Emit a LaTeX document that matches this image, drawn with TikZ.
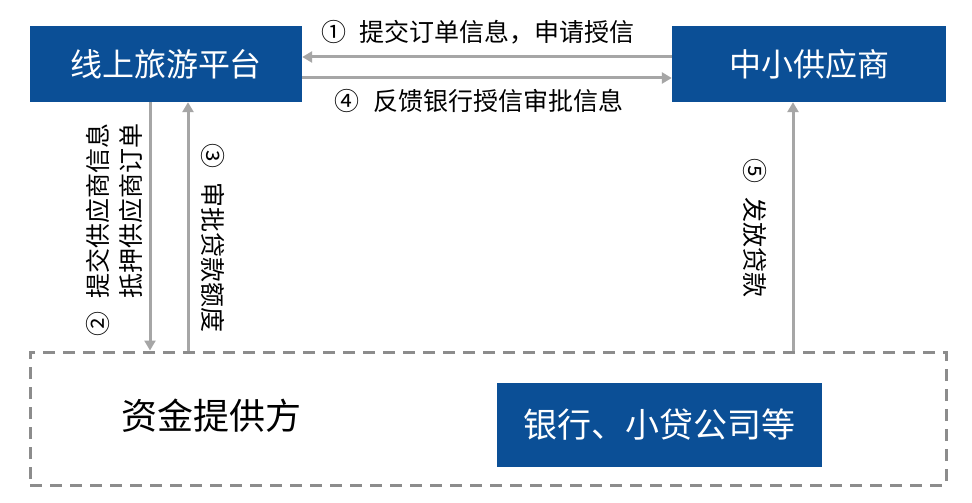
\documentclass[tikz,border=0pt]{standalone}
\usepackage{fontspec}
\setmainfont{Noto Sans CJK SC}
\usetikzlibrary{arrows.meta}
\definecolor{boxblue}{HTML}{0B4F96}
\definecolor{arrgray}{HTML}{A6A6A6}
\definecolor{dashgray}{HTML}{8C8C8C}
\newcommand{\numgap}{\hspace{0.55em}}
\begin{document}
\begin{tikzpicture}[x=1pt,y=-1pt,
  bluebox/.style={fill=boxblue,text=white,inner sep=0pt,font=\fontsize{32}{36}\selectfont},
  flow/.style={draw=arrgray,line width=3pt,-{Triangle[length=10pt,width=11pt]}},
  lbl/.style={font=\fontsize{25}{30}\selectfont,text=black,inner sep=0pt},
]
\useasboundingbox (0,0) rectangle (972,503);
\fill[white] (0,0) rectangle (972,503);
\node[bluebox,minimum width=272pt,minimum height=76pt] (plat) at (166,64) {线上旅游平台};
\node[bluebox,minimum width=274pt,minimum height=76pt] (sup) at (809,64) {中小供应商};
\node[draw=dashgray,line width=3pt,dash pattern=on 12pt off 8pt,minimum width=916pt,minimum height=133pt,inner sep=0pt] (fund) at (488,418.5) {};
\node[bluebox,font=\fontsize{34}{38}\selectfont,minimum width=325pt,minimum height=84pt] (bank) at (659.5,425) {银行、小贷公司等};
\node[font=\fontsize{36}{40}\selectfont,inner sep=0pt] (fundlbl) at (211,416) {资金提供方};
% horizontal arrows
\coordinate (a1s) at (sup.west |- 0,57);
\coordinate (a1e) at (plat.east |- 0,57);
\draw[flow] (a1s) -- (a1e);
\coordinate (a4s) at (plat.east |- 0,78);
\coordinate (a4e) at (sup.west |- 0,78);
\draw[flow] (a4s) -- (a4e);
\node[lbl] (l1) at (478,32) {①\numgap 提交订单信息，申请授信};
\node[lbl] (l4) at (479,101) {④\numgap 反馈银行授信审批信息};
% vertical arrows
\coordinate (a2s) at (150,0 |- plat.south);
\coordinate (a2e) at (150,0 |- fund.north);
\draw[flow] (a2s) -- (a2e);
\coordinate (a3s) at (188,0 |- fund.north);
\coordinate (a3e) at (188,0 |- plat.south);
\draw[flow] (a3s) -- (a3e);
\coordinate (a5s) at (793,0 |- fund.north);
\coordinate (a5e) at (793,0 |- sup.south);
\draw[flow] (a5s) -- (a5e);
\node[lbl,rotate=90,align=right,font=\fontsize{25}{33}\selectfont] (l2) at (114,230) {②\numgap 提交供应商信息\\抵押供应商订单};
\node[lbl,rotate=-90] (l3) at (213,238) {③\numgap 审批贷款额度};
\node[lbl,rotate=-90] (l5) at (755,228) {⑤\numgap 发放贷款};
\end{tikzpicture}
\end{document}
